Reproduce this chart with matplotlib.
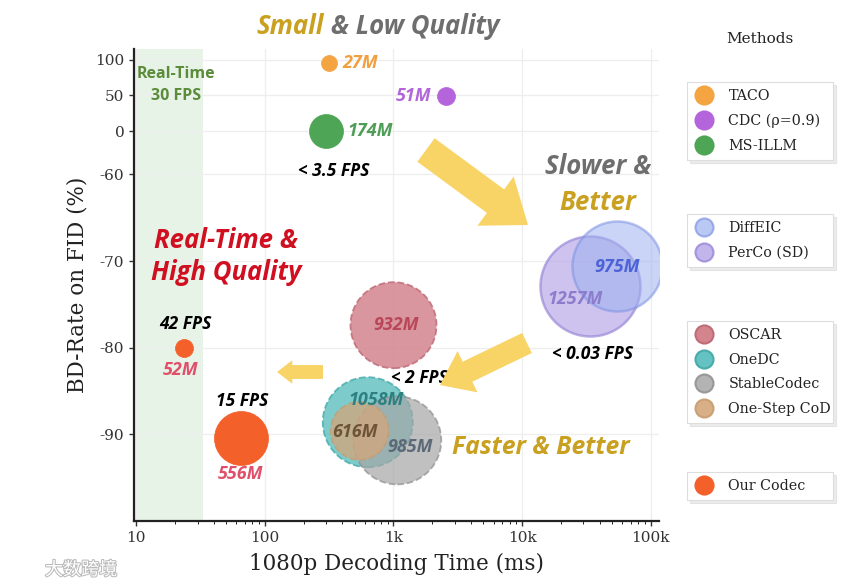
import numpy as np
import matplotlib
matplotlib.use('Agg')
import matplotlib.pyplot as plt
from matplotlib.lines import Line2D
from matplotlib.patches import FancyArrowPatch
import matplotlib.patheffects as pe

# ---------------- data ----------------
methods = ['TACO', 'CDC (ρ=0.9)', 'MS-ILLM', 'PerCo (SD)', 'DiffEIC', 'OSCAR',
           'OneDC', 'StableCodec', 'One-Step CoD', 'Our Codec', 'Our Codec']
decode_ms = [313, 2570, 300, 33500, 54300, 1000, 631, 1070, 545, 23.4, 65]
bd_rate_fid = [95, 49, 0, -72.9, -70.6, -77.4, -88.6, -90.7, -89.6, -80, -90.4]
params = ['27M', '51M', '174M', '1257M', '975M', '932M', '1058M', '985M', '616M', '52M', '556M']
fps_text = {2: '< 3.5 FPS', 3: '< 0.03 FPS', 5: '< 2 FPS', 9: '42 FPS', 10: '15 FPS'}

y_ticks = [100, 50, 0, -60, -70, -80, -90]
x_ticks = [10, 100, 1000, 10000, 100000]
x_ticklabels = ['10', '100', '1k', '10k', '100k']
legend_groups = [['TACO', 'CDC (ρ=0.9)', 'MS-ILLM'],
                 ['DiffEIC', 'PerCo (SD)'],
                 ['OSCAR', 'OneDC', 'StableCodec', 'One-Step CoD'],
                 ['Our Codec']]

# ---------------- style ----------------
DPI = 100
W, H = 865, 586
radius_px = [8, 9, 17, 50, 45, 43, 45, 44, 29, 9, 27]
face = {'TACO': '#F5A442', 'CDC (ρ=0.9)': '#B565DB', 'MS-ILLM': '#4FA556',
        'DiffEIC': '#9DB1F0', 'PerCo (SD)': '#B3A3E6', 'OSCAR': '#D4848D',
        'OneDC': '#5CBFBF', 'StableCodec': '#A6A6A6', 'One-Step CoD': '#D4A67A',
        'Our Codec': '#F4602A'}
edge = {'TACO': '#F5A442', 'CDC (ρ=0.9)': '#B565DB', 'MS-ILLM': '#4FA556',
        'DiffEIC': '#7E93E2', 'PerCo (SD)': '#9684D6', 'OSCAR': '#C06C78',
        'OneDC': '#45A9A9', 'StableCodec': '#8E8E8E', 'One-Step CoD': '#C89C70',
        'Our Codec': '#F4602A'}
alpha = {'TACO': 1, 'CDC (ρ=0.9)': 1, 'MS-ILLM': 1, 'DiffEIC': 0.55, 'PerCo (SD)': 0.65,
         'OSCAR': 0.85, 'OneDC': 0.8, 'StableCodec': 0.7, 'One-Step CoD': 0.75, 'Our Codec': 1}
lstyle = {'OSCAR': '--', 'OneDC': '--', 'StableCodec': '--', 'One-Step CoD': '--'}
lwidth = {'DiffEIC': 1.8, 'PerCo (SD)': 1.8, 'OSCAR': 1.3, 'OneDC': 1.3,
          'StableCodec': 1.3, 'One-Step CoD': 1.3}
label_color = ['#F0A040', '#B266D9', '#4E9E57', '#8C7CCB', '#4B63D6', '#B8475A',
               '#2E7F80', '#5C6A78', '#6E5436', '#E0506A', '#E0506A']
# label offsets in pixels (dx right, dy down) and alignment
label_off = [(14, 0, 'left'), (-15, 0, 'right'), (21, 0, 'left'), (-15, 13, 'center'),
             (0, 1, 'center'), (3, 0, 'center'), (8, -22, 'center'), (13, 7, 'center'),
             (-5, 1, 'center'), (-3, 22, 'center'), (0, 36, 'center')]
fps_off = {2: (8, 40), 3: (3, 68), 5: (26, 53), 9: (2, -24), 10: (1, -37)}

SANS_BI = dict(family=['Open Sans', 'Lato', 'DejaVu Sans'], fontweight='bold', fontstyle='italic')

plt.rcParams['font.family'] = ['DejaVu Serif']

# piecewise y scale
Y_KNOTS = [-1000, -100, -90, -80, -70, -60, 0, 50, 100, 1000]
U_KNOTS = [-7800, 0, 86.7, 173.3, 260, 346.7, 390, 425.7, 461.4, 1104]


def fwd(y):
    return np.interp(y, Y_KNOTS, U_KNOTS)


def inv(u):
    return np.interp(u, U_KNOTS, Y_KNOTS)


fig = plt.figure(figsize=(W / DPI, H / DPI), dpi=DPI)
ax = fig.add_axes([134 / W, 1 - 521 / H, (659 - 134) / W, (521 - 49) / H])
ax.set_xscale('log')
ax.set_yscale('function', functions=(fwd, inv))
ax.set_xlim(9.6, 116000)
ax.set_ylim(-100, 115)

ax.axvspan(9.6, 33.3, color='#E3F0E3', alpha=0.8, zorder=0, lw=0)

for i in range(len(methods)):
    m = methods[i]
    d_pt = 2 * radius_px[i] * 72 / DPI
    ax.scatter([decode_ms[i]], [bd_rate_fid[i]], s=d_pt ** 2, c=face[m], alpha=alpha[m],
               edgecolors=edge[m], linewidths=lwidth.get(m, 0.5),
               linestyles=lstyle.get(m, '-'), zorder=3 + i * 0.1)

for i in range(len(methods)):
    dx, dy, ha = label_off[i]
    ax.annotate(params[i], (decode_ms[i], bd_rate_fid[i]), xytext=(dx * 0.72, -dy * 0.72),
                textcoords='offset points', ha=ha, va='center', color=label_color[i],
                fontsize=13, zorder=10, **SANS_BI)

for i, t in fps_text.items():
    dx, dy = fps_off[i]
    ax.annotate(t, (decode_ms[i], bd_rate_fid[i]), xytext=(dx * 0.72, -dy * 0.72),
                textcoords='offset points', ha='center', va='center', color='black',
                fontsize=12.5, zorder=10, **SANS_BI)

ax.set_xticks(x_ticks)
ax.set_xticklabels(x_ticklabels)
ax.set_yticks(y_ticks)
ax.set_yticklabels([str(v) for v in y_ticks])
ax.tick_params(labelsize=11, colors='#333333', width=1.0)
ax.grid(True, which='major', color='#EEEEEE', lw=0.9, zorder=0)
ax.set_axisbelow(True)
for s in ['top', 'right']:
    ax.spines[s].set_visible(False)
for s in ['left', 'bottom']:
    ax.spines[s].set_linewidth(1.6)
    ax.spines[s].set_color('#222222')
ax.set_xlabel('1080p Decoding Time (ms)', fontsize=15.5, color='#222222', labelpad=6)
ax.set_ylabel('BD-Rate on FID (%)', fontsize=15.5, color='#222222', labelpad=5)


def fp(x, y):
    return (x / W, 1 - y / H)


BIG = 18.5
t1 = fig.text(*fp(256, 27), 'Small', color='#C9A020', fontsize=BIG, ha='left', va='center', **SANS_BI)
fig.canvas.draw()
bb = t1.get_window_extent()
fig.text((bb.x1 + 1) / W, 1 - 27 / H, ' & Low Quality', color='#6E6E6E', fontsize=BIG,
         ha='left', va='center', **SANS_BI)
fig.text(*fp(176, 74), 'Real-Time', color='#5B8C3A', fontsize=11.5, fontweight='bold',
         family=['Open Sans', 'DejaVu Sans'], ha='center', va='center')
fig.text(*fp(176, 96), '30 FPS', color='#5B8C3A', fontsize=11.5, fontweight='bold',
         family=['Open Sans', 'DejaVu Sans'], ha='center', va='center')
fig.text(*fp(226, 240), 'Real-Time &', color='#D01020', fontsize=BIG, ha='center', va='center', **SANS_BI)
fig.text(*fp(226, 272), 'High Quality', color='#D01020', fontsize=BIG, ha='center', va='center', **SANS_BI)
fig.text(*fp(598, 167), 'Slower &', color='#6E6E6E', fontsize=BIG, ha='center', va='center', **SANS_BI)
fig.text(*fp(598, 202), 'Better', color='#C9A020', fontsize=BIG, ha='center', va='center', **SANS_BI)
fig.text(*fp(541, 447), 'Faster & Better', color='#C9A020', fontsize=17.8, ha='center', va='center', **SANS_BI)

# arrows
ARROW_C = '#F8D467'
for (x0, y0, x1, y1, tw, hw, hl) in [(426, 150, 528, 225, 21, 44, 29),
                                     (527, 343, 440, 385, 16, 33, 22),
                                     (323, 372, 277, 372, 10, 17, 11)]:
    arr = FancyArrowPatch(posA=(x0, H - y0), posB=(x1, H - y1), transform=None,
                          arrowstyle=f'simple,head_length={hl},head_width={hw},tail_width={tw}',
                          mutation_scale=1, color=ARROW_C, lw=0, shrinkA=0, shrinkB=0, zorder=8)
    fig.patches.append(arr)

# legends
fig.text(*fp(760, 39), 'Methods', fontsize=11, ha='center', va='center', color='#222222')
tops = [82, 214, 321, 472]
for grp, top in zip(legend_groups, tops):
    handles = [Line2D([], [], ls='', marker='o', markersize=13, markerfacecolor=face[m],
                      markeredgecolor=edge[m], markeredgewidth=1.5,
                      alpha=min(1, alpha[m] + 0.15)) for m in grp]
    leg = fig.legend(handles, grp, loc='upper left',
                     bbox_to_anchor=(687 / W, 1 - top / H, 146 / W, 0), mode='expand',
                     fontsize=10.3, frameon=True, fancybox=False,
                     shadow={'alpha': 0.10, 'ox': 2, 'oy': -2},
                     handletextpad=1.05, labelspacing=0.74, borderpad=0.5, handlelength=1.35,
                     borderaxespad=0)
    leg.get_frame().set_edgecolor('#DDDDDD')
    leg.get_frame().set_linewidth(0.8)
    for t in leg.get_texts():
        t.set_color('#222222')

# watermark
fig.text(*fp(45, 570), '大数跨境', fontsize=13, color='white', ha='left', va='center',
         family=['Noto Sans CJK SC', 'DejaVu Sans'],
         path_effects=[pe.withStroke(linewidth=1.5, foreground='#BBBBBB')])

fig.savefig('out.png', dpi=DPI)
